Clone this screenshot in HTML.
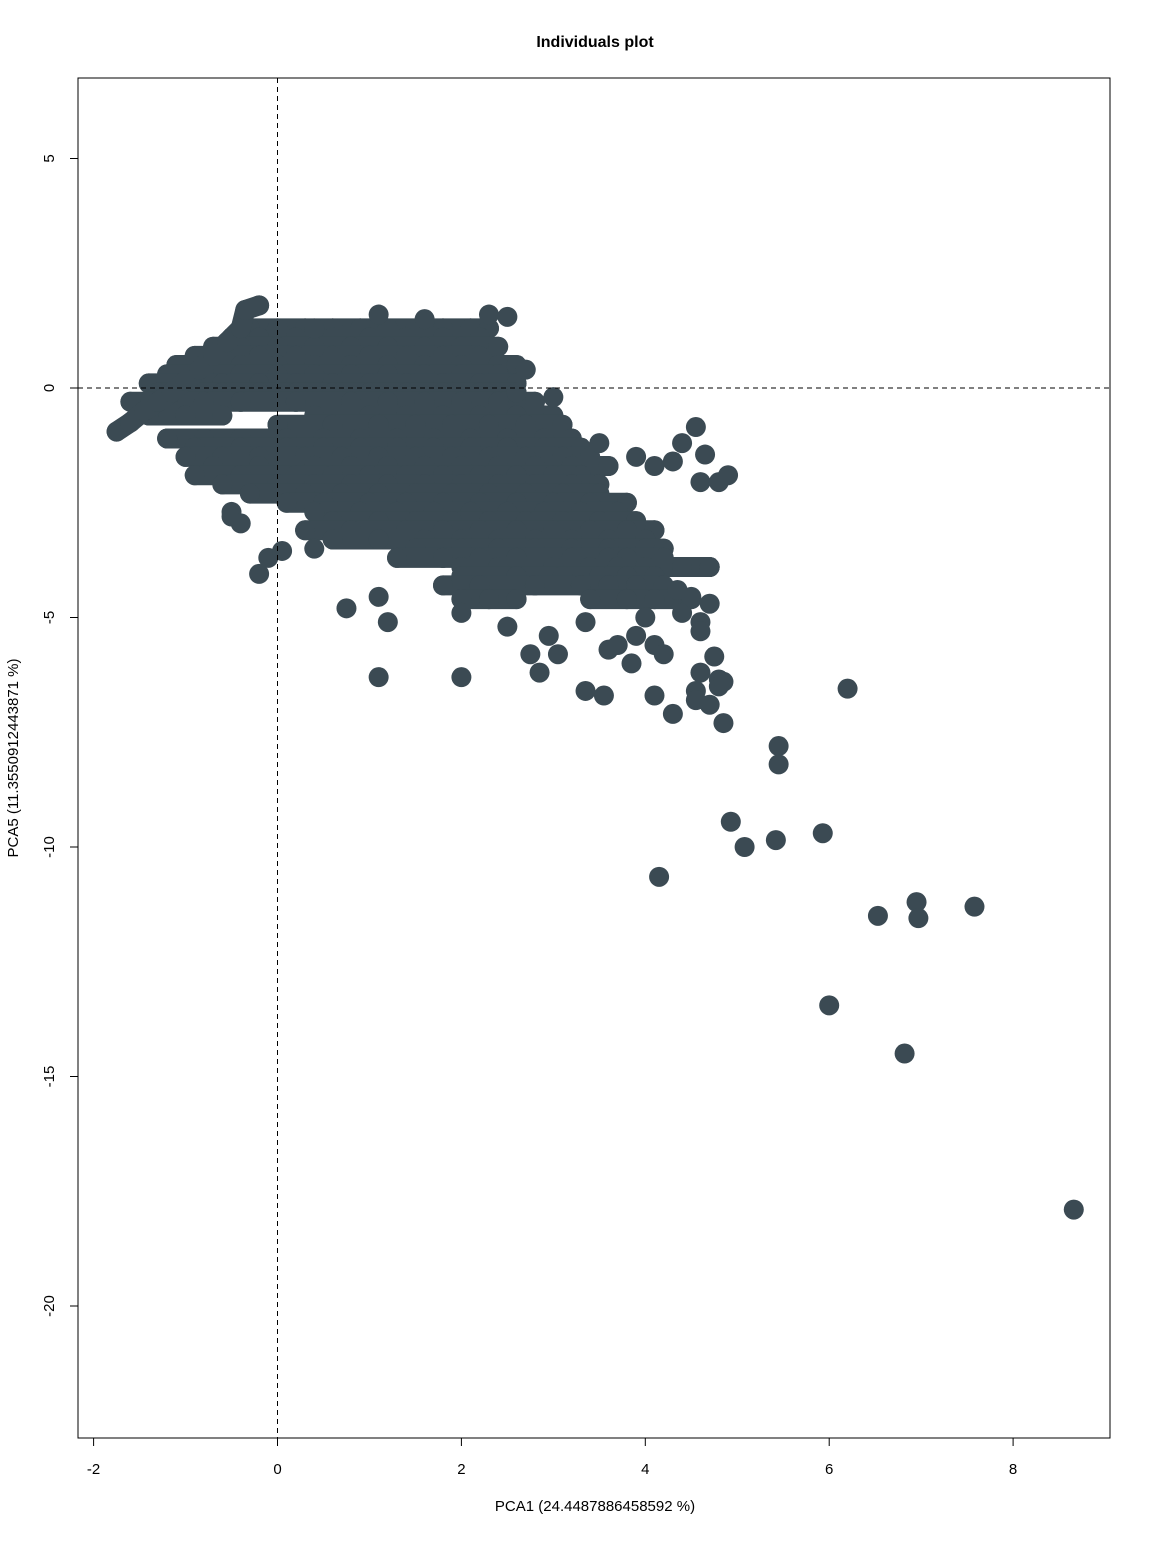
<!DOCTYPE html>
<html><head><meta charset="utf-8"><style>
body{margin:0;background:#fff;}
svg text{font-family:"Liberation Sans",Arial,sans-serif;fill:#000;}
</style></head><body>
<svg id="chart" width="1152" height="1536" xmlns="http://www.w3.org/2000/svg">
<rect width="1152" height="1536" fill="#fff"/>
<text x="595" y="47" text-anchor="middle" font-size="16" font-weight="bold">Individuals plot</text>
<g id="pts"></g>
<g id="axes"></g>
<text x="595" y="1511" text-anchor="middle" font-size="15">PCA1 (24.4487886458592 %)</text>
<text x="0" y="0" transform="translate(18,758) rotate(-90)" text-anchor="middle" font-size="15">PCA5 (11.3550912443871 %)</text>
</svg>
<script>
const xTicks=[-2,0,2,4,6,8];
const yTicks=[-20,-15,-10,-5,0,5];
// rows of the dense cluster: y value and x values
const rowY=[1.3,1.1,0.9,0.7,0.5,0.3,0.1,-0.1,-0.3,-0.6,-0.8,-1.1,-1.3,-1.5,-1.7,-1.9,-2.1,-2.3,-2.5,-2.7,-2.9,-3.1,-3.3,-3.5,-3.7,-3.9,-4.1,-4.3,-4.6];
const rowX=[
[-0.3,0,0.3,0.6,0.9,1.2,1.5,1.8,2.1,2.3],
[-0.5,-0.2,0.2,0.6,1.0,1.4,1.8,2.2],
[-0.7,-0.4,0,0.4,0.8,1.2,1.6,2.0,2.4],
[-0.9,-0.6,-0.2,0.2,0.6,1.0,1.4,1.8,2.2],
[-1.1,-0.8,-0.4,0,0.4,0.8,1.2,1.6,2.0,2.4,2.6],
[-1.2,-0.8,-0.4,0,0.4,0.8,1.2,1.6,2.0,2.4],
[-1.4,-1.0,-0.6,-0.2,0.2,0.6,1.0,1.4,1.8,2.2,2.6],
[-1.3,-1.0,-0.6,-0.2,0.2,0.6,1.0,1.4,1.8,2.2,2.6],
[-1.6,-1.2,-0.8,-0.4,0.2,0.8,1.2,1.6,2.0,2.4,2.8],
[-1.4,-1.0,-0.6,0.4,1.0,1.4,1.8,2.2,2.6,3.0],
[0,0.6,1.1,1.5,1.9,2.3,2.7,3.1],
[-1.2,-0.8,-0.4,0.1,0.5,0.9,1.3,1.7,2.1,2.5,2.9,3.2],
[-0.9,-0.4,0.1,0.5,0.9,1.3,1.7,2.1,2.5,2.9,3.3],
[-1.0,-0.6,-0.2,0.3,0.7,1.1,1.5,1.9,2.3,2.7,3.1,3.4],
[-0.7,-0.2,0.4,0.8,1.2,1.6,2.0,2.4,2.8,3.2,3.6],
[-0.9,-0.4,0.2,0.6,1.0,1.4,1.8,2.2,2.6,3.0,3.3],
[-0.6,0,0.4,0.8,1.2,1.6,2.0,2.4,2.8,3.2,3.5],
[-0.3,0.3,0.7,1.1,1.5,1.9,2.3,2.7,3.1,3.5],
[0.1,0.5,1.0,1.4,1.8,2.2,2.6,3.0,3.4,3.8],
[-0.5,0.4,0.9,1.3,1.7,2.1,2.5,2.9,3.3,3.7],
[0.6,1.1,1.5,1.9,2.3,2.7,3.1,3.5,3.9],
[0.3,0.8,1.4,1.8,2.2,2.6,3.0,3.4,3.8,4.1],
[0.6,1.1,1.6,2.0,2.4,2.8,3.2,3.6,4.0],
[0.4,1.5,2.0,2.4,2.8,3.2,3.6,4.0,4.2],
[1.3,1.8,2.2,2.6,3.2,3.6,3.8,4.2],
[2.0,2.4,3.0,3.4,3.7,4.0,4.4,4.7],
[2.0,2.6,3.1,3.5,3.8,4.1],
[1.8,2.2,2.8,3.3,3.6,3.9,4.2],
[2.0,2.3,2.6,3.4,3.8,4.1,4.5]];
// individual points
const ptX=[-1.75,-1.6,-1.45,-1.3,-1.15,-1.0,-0.85,-0.7,-0.55,-0.4,-0.35,-0.2,0.4,1.1,1.6,2.3,2.5,
3.5,3.9,4.1,4.3,4.4,4.55,4.65,4.6,4.8,4.9,3.0,2.7,2.6,
-1.2,-0.5,-0.4,-0.2,-0.1,0.05,0.75,1.1,1.2,1.1,2.0,2.0,2.5,2.75,2.85,2.95,3.05,3.35,3.35,3.55,3.6,3.7,3.85,3.9,4.0,4.1,4.1,4.2,4.3,4.4,4.55,4.55,4.6,4.6,4.6,4.7,4.7,4.75,4.8,4.8,4.85,4.85,4.5,4.35,4.7,
5.45,5.45,4.93,5.08,5.42,5.93,6.2,4.15,6.53,6.95,6.97,7.58,6.0,6.82,8.66];
const ptY=[-0.95,-0.75,-0.5,-0.3,-0.1,0.15,0.4,0.7,1.0,1.3,1.7,1.8,1.3,1.6,1.5,1.6,1.55,
-1.2,-1.5,-1.7,-1.6,-1.2,-0.85,-1.45,-2.05,-2.05,-1.9,-0.2,0.4,-0.1,
-1.1,-2.8,-2.95,-4.05,-3.7,-3.55,-4.8,-4.55,-5.1,-6.3,-6.3,-4.9,-5.2,-5.8,-6.2,-5.4,-5.8,-5.1,-6.6,-6.7,-5.7,-5.6,-6.0,-5.4,-5.0,-5.6,-6.7,-5.8,-7.1,-4.9,-6.6,-6.8,-5.1,-5.3,-6.2,-3.9,-6.9,-5.85,-6.35,-6.5,-6.4,-7.3,-4.55,-4.4,-4.7,
-7.8,-8.2,-9.45,-10.0,-9.85,-9.7,-6.55,-10.65,-11.5,-11.2,-11.55,-11.3,-13.45,-14.5,-17.9];

const L=78,R=1110,T=78,B=1438;
const sx=v=>277.5+v*91.95;
const sy=v=>388-v*45.9;
const COL='#3b4a53';
const NS="http://www.w3.org/2000/svg";
const pts=document.getElementById('pts');
const axes=document.getElementById('axes');
function mk(tag,attrs,parent){const e=document.createElementNS(NS,tag);for(const k in attrs)e.setAttribute(k,attrs[k]);parent.appendChild(e);return e;}
function dot(x,y){
  const c=mk('circle',{cx:sx(x),cy:sy(y),r:10,fill:COL},pts);
  
  
}
// overlapping neighbours within a row merge into a solid band
rowY.forEach((y,i)=>{
  const xs=rowX[i];
  for(let j=1;j<xs.length;j++){
    if(xs[j]-xs[j-1]<=0.7){
      const s=mk('line',{x1:sx(xs[j-1]),x2:sx(xs[j]),y1:sy(y),y2:sy(y),stroke:COL,'stroke-width':20,'stroke-linecap':'round'},pts);
      
      
    }
  }
  xs.forEach(x=>dot(x,y));
});
ptX.forEach((x,i)=>dot(x,ptY[i]));
// diagonal edge band of the cluster
for(let k=1;k<12;k++){
  const s=mk('line',{x1:sx(ptX[k-1]),y1:sy(ptY[k-1]),x2:sx(ptX[k]),y2:sy(ptY[k]),stroke:COL,'stroke-width':20,'stroke-linecap':'round'},pts);
  
  
}
// reference lines
let h=mk('line',{x1:L,x2:R,y1:sy(0),y2:sy(0),stroke:'#000','stroke-dasharray':'5,4','stroke-width':1},axes);


let v=mk('line',{x1:sx(0),x2:sx(0),y1:T,y2:B,stroke:'#000','stroke-dasharray':'5,4','stroke-width':1},axes);


let box=mk('rect',{x:L,y:T,width:R-L,height:B-T,fill:'none',stroke:'#000','stroke-width':1},axes);


xTicks.forEach(t=>{
  const l=mk('line',{x1:sx(t),x2:sx(t),y1:B,y2:B+8,stroke:'#000'},axes);
  
  
  const tx=mk('text',{x:sx(t),y:B+36,'text-anchor':'middle','font-size':15},axes);
  tx.textContent=t;
  
  
});
yTicks.forEach(t=>{
  const l=mk('line',{x1:L-8,x2:L,y1:sy(t),y2:sy(t),stroke:'#000'},axes);
  
  
  const tx=mk('text',{x:0,y:0,transform:`translate(${L-24},${sy(t)}) rotate(-90)`,'text-anchor':'middle','font-size':15},axes);
  tx.textContent=t;
  
  
});
</script>
</body></html>
